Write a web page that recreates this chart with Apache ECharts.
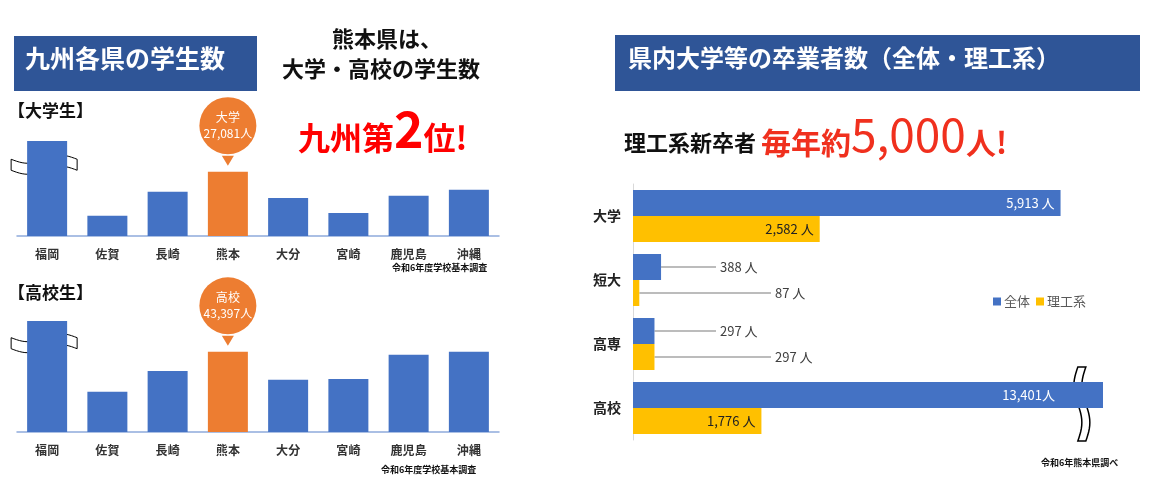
<!DOCTYPE html>
<html>
<head>
<meta charset="utf-8">
<script src="https://cdn.jsdelivr.net/npm/echarts@6/dist/echarts.min.js"></script>
<style>
  html, body { margin: 0; padding: 0; background: #fff; }
  #chart { width: 1157px; height: 491px; }
</style>
</head>
<body>
<div id="chart"></div>
<script>
// prefectures (left charts)
const prefs = ["福岡", "佐賀", "長崎", "熊本", "大分", "宮崎", "鹿児島", "沖縄"];
// university students (Fukuoka bar is broken, shown at the cap)
const univStudents = [120000, 8500, 18600, 27081, 16000, 9700, 17000, 19500];
const univCap = 40000;
// high school students
const hsStudents = [130000, 21700, 33000, 43397, 28200, 28700, 41800, 43400];
const hsCap = 60000;

// graduates (right chart)
const gradCats = ["大学", "短大", "高専", "高校"];
const gradAll = [5913, 388, 297, 13401];
const gradSci = [2582, 87, 297, 1776];
const gradCap = 6500;

const FONT = '"Noto Sans CJK JP", "Noto Sans", sans-serif';
const BLUE = "#4472C4", ORANGE = "#ED7D31", YELLOW = "#FFC000";

const fmt = v => v.toLocaleString("en-US");

function prefBars(values, cap, gridIdx, bubbleText) {
  const kv = values[prefs.indexOf("熊本")];
  return {
    type: "bar",
    xAxisIndex: gridIdx, yAxisIndex: gridIdx,
    barWidth: 40,
    data: values.map((v, i) => ({
      value: Math.min(v, cap),
      itemStyle: { color: prefs[i] === "熊本" ? ORANGE : BLUE }
    })),
    markPoint: {
      itemStyle: { color: ORANGE },
      data: [
        { coord: ["熊本", kv], symbol: "triangle", symbolRotate: 180, symbolSize: [12, 10], symbolOffset: [0, -11], label: { show: false } },
        { coord: ["熊本", kv], symbol: "circle", symbolSize: 57, symbolOffset: [0, -46],
          label: { show: true, formatter: bubbleText, color: "#fff", fontSize: 12, lineHeight: 16, fontFamily: FONT } }
      ]
    }
  };
}

function prefAxes(gridIdx, cap) {
  return {
    x: {
      type: "category", gridIndex: gridIdx, data: prefs,
      axisLine: { lineStyle: { color: "#8FAADC", width: 1.5 } },
      axisTick: { show: false },
      axisLabel: { color: "#333", fontSize: 12, fontWeight: "bold", fontFamily: FONT, margin: 12 }
    },
    y: { type: "value", gridIndex: gridIdx, min: 0, max: cap, show: false, splitLine: { show: false } }
  };
}

const a0 = prefAxes(0, univCap), a1 = prefAxes(1, hsCap);

const chart = echarts.init(document.getElementById("chart"));

const sciLabelX = [0, 142, 142, 0];
const allLabelX = [0, 87, 87, 0];

chart.setOption({
  animation: false,
  textStyle: { fontFamily: FONT },
  grid: [
    { left: 17, width: 482, top: 141, height: 95 },
    { left: 17, width: 482, top: 321, height: 111 },
    { left: 633, width: 470, top: 184, height: 256 }
  ],
  legend: {
    data: ["全体", "理工系"],
    left: 988, top: 290,
    itemWidth: 8, itemHeight: 8, itemGap: 6, icon: "rect",
    textStyle: { color: "#595959", fontSize: 13, fontFamily: FONT, padding: [0, 0, 0, -2] }
  },
  xAxis: [a0.x, a1.x, {
    type: "value", gridIndex: 2, min: 0, max: gradCap, show: false
  }],
  yAxis: [a0.y, a1.y, {
    type: "category", gridIndex: 2, data: gradCats, inverse: true,
    axisLine: { lineStyle: { color: "#D9D9D9" } },
    axisTick: { show: false },
    axisLabel: { color: "#222", fontSize: 14, fontWeight: "bold", fontFamily: FONT, margin: 12 }
  }],
  series: [
    prefBars(univStudents, univCap, 0, "大学\n27,081人"),
    prefBars(hsStudents, hsCap, 1, "高校\n43,397人"),
    {
      name: "全体", type: "bar", xAxisIndex: 2, yAxisIndex: 2,
      barWidth: 26, barGap: "0%", itemStyle: { color: BLUE },
      data: gradAll.map((v, i) => ({
        value: Math.min(v, gradCap),
        label: v > 1000
          ? { show: true, position: "insideRight", distance: v > gradCap ? 48 : 6, color: "#fff" }
          : { show: true, position: [allLabelX[i], "50%"], verticalAlign: "middle", color: "#404040" }
      })),
      label: { fontSize: 13, fontFamily: FONT, formatter: p => fmt(gradAll[p.dataIndex]) + (gradAll[p.dataIndex] > gradCap ? "人" : " 人") }
    },
    {
      name: "理工系", type: "bar", xAxisIndex: 2, yAxisIndex: 2,
      barWidth: 26, barGap: "0%", itemStyle: { color: YELLOW },
      data: gradSci.map((v, i) => ({
        value: v,
        label: v > 1000
          ? { show: true, position: "insideRight", distance: 6, color: "#222" }
          : { show: true, position: [sciLabelX[i], "50%"], verticalAlign: "middle", color: "#404040" }
      })),
      label: { fontSize: 13, fontFamily: FONT, formatter: p => fmt(gradSci[p.dataIndex]) + " 人" }
    }
  ]
});

// leader lines from small bars to their labels
const leaders = [];
[[gradAll, allLabelX, -13], [gradSci, sciLabelX, 13]].forEach(([vals, lx, off]) => {
  vals.forEach((v, i) => {
    if (v > 1000) return;
    const p = chart.convertToPixel({ gridIndex: 2 }, [v, i]);
    const x0 = chart.convertToPixel({ gridIndex: 2 }, [0, i])[0];
    leaders.push({
      type: "line", silent: true,
      shape: { x1: p[0], y1: p[1] + off, x2: x0 + lx[i] - 4, y2: p[1] + off },
      style: { stroke: "#A6A6A6", lineWidth: 1.5 }
    });
  });
});

// wavy break marks (ribbon shape)
function ribbon(cx, cy, len, thick, amp, vertical) {
  const pts = [], n = 24;
  for (let k = 0; k <= n; k++) {
    const s = -len / 2 + len * k / n;
    const w = amp * Math.sin(2 * Math.PI * k / n);
    pts.push(vertical ? [cx + w - thick / 2, cy + s] : [cx + s, cy + w - thick / 2]);
  }
  for (let k = n; k >= 0; k--) {
    const s = -len / 2 + len * k / n;
    const w = amp * Math.sin(2 * Math.PI * k / n);
    pts.push(vertical ? [cx + w + thick / 2, cy + s] : [cx + s, cy + w + thick / 2]);
  }
  return pts;
}
const breaks = [];
const pU = chart.convertToPixel({ gridIndex: 0 }, ["福岡", univCap * 0.75]);
breaks.push({ type: "polygon", shape: { points: ribbon(pU[0] - 3, pU[1], 66, 11, 4, false) }, style: { fill: "#fff", stroke: "#000", lineWidth: 1 } });
const pH = chart.convertToPixel({ gridIndex: 1 }, ["福岡", hsCap * 0.8]);
breaks.push({ type: "polygon", shape: { points: ribbon(pH[0] - 3, pH[1], 66, 11, 4, false) }, style: { fill: "#fff", stroke: "#000", lineWidth: 1 } });
const pR = chart.convertToPixel({ gridIndex: 2 }, [gradCap * 0.955, 3]);
breaks.push({ type: "polygon", shape: { points: ribbon(pR[0], pR[1] - 4, 74, 8, -4, true) }, style: { fill: "#fff", stroke: "#000", lineWidth: 1.5 } });

const t = (x, y, text, size, color) => ({
  type: "text", left: x, top: y,
  style: { text, fontSize: size, fill: color, fontFamily: FONT, fontWeight: "bold" }
});

chart.setOption({
  graphic: [].concat(leaders, breaks, [
    { type: "rect", shape: { x: 14, y: 36, width: 243, height: 55 }, style: { fill: "#2F5597" } },
    t(25, 46, "九州各県の学生数", 25, "#fff"),
    { type: "rect", shape: { x: 615, y: 35, width: 525, height: 56 }, style: { fill: "#2F5597" } },
    t(628, 46, "県内大学等の卒業者数（全体・理工系）", 24, "#fff"),
    t(332, 28, "熊本県は、", 22, "#111"),
    t(282, 58, "大学・高校の学生数", 22, "#111"),
    { type: "text", left: 298, top: 104, style: {
      text: "{a|九州第}{b|2}{a|位!}",
      rich: { a: { fontSize: 32, fontWeight: "bold", fill: "#FF0000", fontFamily: FONT, verticalAlign: "bottom" },
              b: { fontSize: 50, fontWeight: "bold", fill: "#FF0000", fontFamily: FONT, verticalAlign: "bottom" } } } },
    t(8, 102, "【大学生】", 17, "#111"),
    t(8, 284, "【高校生】", 17, "#111"),
    t(392, 263, "令和6年度学校基本調査", 9, "#111"),
    t(381, 465, "令和6年度学校基本調査", 9, "#111"),
    t(1041, 458, "令和6年熊本県調べ", 9, "#111"),
    { type: "text", left: 624, top: 112, style: {
      text: "{k|理工系新卒者 }{r|毎年約}{n|5,000}{r|人!}",
      rich: { k: { fontSize: 22, fontWeight: "bold", fill: "#111", fontFamily: FONT, verticalAlign: "bottom", padding: [0, 0, 4, 0] },
              r: { fontSize: 30, fontWeight: "bold", fill: "#F0301E", fontFamily: FONT, verticalAlign: "bottom" },
              n: { fontSize: 46, fill: "#F0301E", fontFamily: FONT, verticalAlign: "bottom" } } } }
  ])
});

window.addEventListener("resize", () => chart.resize());
</script>
</body>
</html>
